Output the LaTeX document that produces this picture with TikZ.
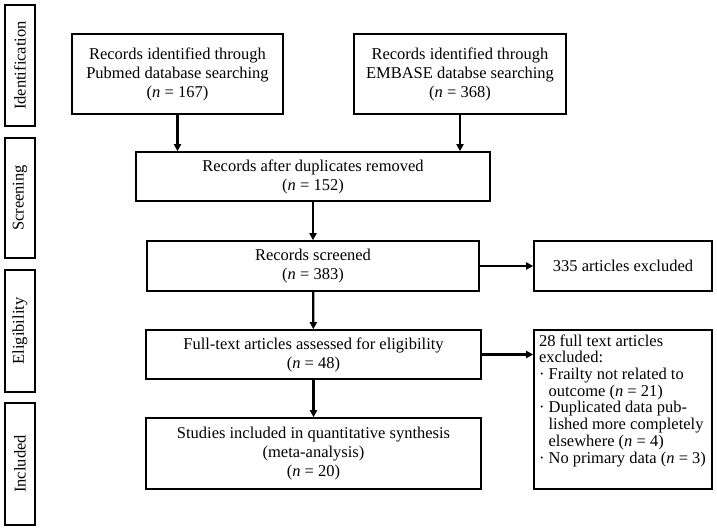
\documentclass[tikz,border=0pt]{standalone}
\usepackage{fontspec}
\setmainfont{Liberation Serif}
\usetikzlibrary{arrows.meta}
\newcommand{\nn}{\textit{n}}
\newcommand{\ind}{\phantom{·\ }}
\begin{document}
\begin{tikzpicture}[x=1pt,y=-1pt]
    \tikzstyle{box}=[draw, line width=1.6pt, align=center, inner sep=0pt, font=\fontsize{16.5}{19}\selectfont]
    \tikzstyle{phase}=[box, rotate=90, minimum height=30]
    \tikzstyle{link}=[line width=2.2pt, -{Triangle[length=7pt,width=7pt]}]
    \useasboundingbox (0,0) rectangle (717,529);
    % phases
    \node[phase, minimum width=121] (ident) at (20,65.5){Identification};
    \node[phase, minimum width=120] (scrn) at (20,198){Screening};
    \node[phase, minimum width=122] (elig) at (20,331){Eligibility};
    \node[phase, minimum width=122] (incl) at (20,464){Included};
    % boxes
    \node[box, minimum width=211, minimum height=80] (pubmed) at (177.5,74){Records identified through\\Pubmed database searching\\(\nn{} = 167)};
    \node[box, minimum width=212, minimum height=80] (embase) at (460,74){Records identified through\\EMBASE databse searching\\(\nn{} = 368)};
    \node[box, minimum width=354, minimum height=49] (dup) at (313,176.5){Records after duplicates removed\\(\nn{} = 152)};
    \node[box, minimum width=332, minimum height=50] (screened) at (313,266){Records screened\\(\nn{} = 383)};
    \node[box, minimum width=178, minimum height=50] (excl) at (623,266){335 articles excluded};
    \node[box, minimum width=335, minimum height=49] (full) at (313.5,354.5){Full-text articles assessed for eligibility\\(\nn{} = 48)};
    \node[box, minimum width=335, minimum height=71] (studies) at (313.5,453.5){Studies included in quantitative synthesis\\(meta-analysis)\\(\nn{} = 20)};
    \node[box, align=left, minimum width=178, minimum height=159, inner sep=0pt] (fullexcl) at (623,409.5){%
      \begin{minipage}[t][150pt][t]{168pt}\fontsize{16.5}{16.7}\selectfont
      28 full text articles\\
      excluded:\\
      · Frailty not related to\\
      \ind outcome (\nn{} = 21)\\
      · Duplicated data pub-\\
      \ind lished more completely\\
      \ind elsewhere (\nn{} = 4)\\
      · No primary data (\nn{} = 3)
      \end{minipage}};
    % arrows
    \draw[link] (pubmed.south) -- (pubmed.south |- dup.north);
    \draw[link] (embase.south) -- (embase.south |- dup.north);
    \draw[link] (dup) -- (screened);
    \draw[link] (screened) -- (excl);
    \draw[link] (screened) -- (full);
    \draw[link] (full.east) -- (full.east -| fullexcl.west);
    \draw[link] (full) -- (studies);
\end{tikzpicture}
\end{document}
